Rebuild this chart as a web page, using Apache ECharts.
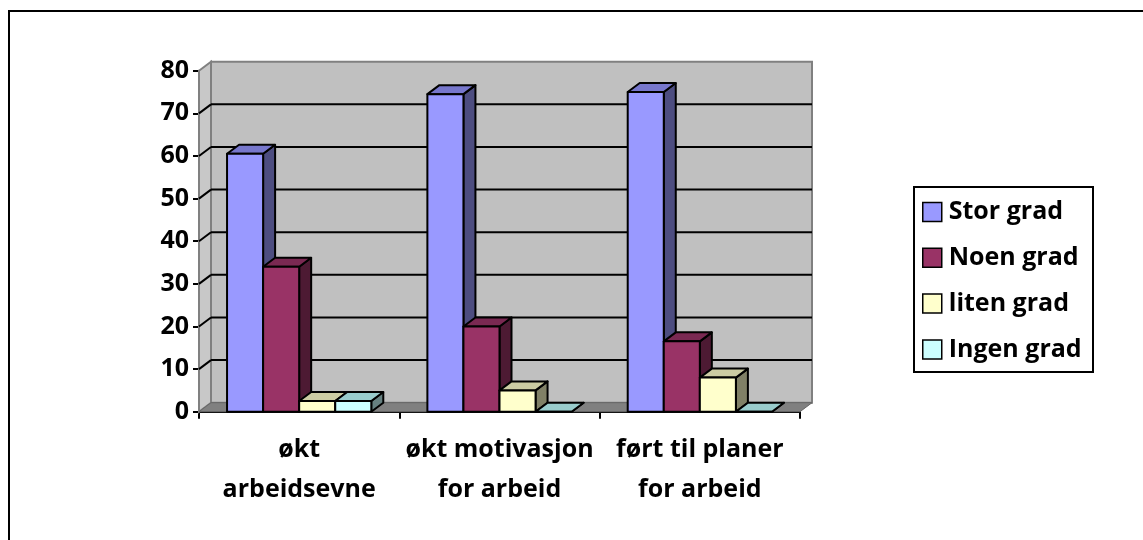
<!DOCTYPE html>
<html>
<head>
<meta charset="utf-8">
<script src="https://cdn.jsdelivr.net/npm/echarts@6/dist/echarts.min.js"></script>
<style>
html,body{margin:0;padding:0;background:#fff;}
#c{width:1143px;height:540px;}
</style>
</head>
<body>
<div id="c"></div>
<script>
// ---- data ----
var categories = ['økt\narbeidsevne', 'økt motivasjon\nfor arbeid', 'ført til planer\nfor arbeid'];
var seriesNames = ['Stor grad', 'Noen grad', 'liten grad', 'Ingen grad'];
var storGrad = [60.5, 74.5, 75];
var noenGrad = [34, 20, 16.5];
var litenGrad = [2.5, 5, 8];
var ingenGrad = [2.5, 0, 0];
var yTicks = [0, 10, 20, 30, 40, 50, 60, 70, 80];

// ---- style ----
var faceColors = [
  {front: '#9999FF', top: '#7777CC', side: '#4D4D80'},
  {front: '#993366', top: '#7A2952', side: '#4D1A33'},
  {front: '#FFFFCC', top: '#CCCCA3', side: '#808066'},
  {front: '#CCFFFF', top: '#99CCCC', side: '#668080'}
];
var DX = 12, DY = -9;
var FONT = '"Open Sans", "Liberation Sans", sans-serif';
var FS = 25;
var allValues = [storGrad, noenGrad, litenGrad, ingenGrad];

var chart = echarts.init(document.getElementById('c'), null, {renderer: 'canvas'});

function wallsRender(params, api) {
  var cs = params.coordSys;
  var x0 = cs.x, x1 = cs.x + cs.width, yT = cs.y, yB = cs.y + cs.height;
  return {
    type: 'group',
    children: [
      {type: 'polygon', shape: {points: [[x0, yT], [x0 + DX, yT + DY], [x0 + DX, yB + DY], [x0, yB]]},
       style: {fill: '#C8C8C8', stroke: '#808080', lineWidth: 2}},
      {type: 'rect', shape: {x: x0 + DX, y: yT + DY, width: cs.width, height: cs.height},
       style: {fill: '#C0C0C0', stroke: '#808080', lineWidth: 2}},
      {type: 'polygon', shape: {points: [[x0, yB], [x1, yB], [x1 + DX, yB + DY], [x0 + DX, yB + DY]]},
       style: {fill: '#808080', stroke: '#666666', lineWidth: 1}}
    ]
  };
}

function gridRender(params, api) {
  var cs = params.coordSys;
  var v = api.value(1);
  if (v <= yTicks[0] || v >= yTicks[yTicks.length - 1]) return null;
  var y = api.coord([0, v])[1];
  var x0 = cs.x, x1 = cs.x + cs.width;
  return {
    type: 'group',
    children: [
      {type: 'line', shape: {x1: x0 + DX, y1: y + DY, x2: x1 + DX, y2: y + DY},
       style: {stroke: '#000', lineWidth: 2}},
      {type: 'line', shape: {x1: x0, y1: y, x2: x0 + DX, y2: y + DY},
       style: {stroke: '#000', lineWidth: 2}}
    ]
  };
}

function makeBarRender(si) {
  return function (params, api) {
    var cat = api.value(0), val = api.value(1);
    var top = api.coord([cat, val]);
    var base = api.coord([cat, 0]);
    var band = api.size([1, 0])[0];
    var bw = band * 0.18;
    var x0 = top[0] + (si - 1.5) * bw - bw / 2;
    var yt = top[1], yb = base[1];
    var c = faceColors[si];
    var st = {stroke: '#000', lineWidth: 2, lineJoin: 'round'};
    return {
      type: 'group',
      children: [
        {type: 'polygon', shape: {points: [[x0 + bw, yt], [x0 + bw + DX, yt + DY], [x0 + bw + DX, yb + DY], [x0 + bw, yb]]},
         style: Object.assign({fill: c.side}, st)},
        {type: 'polygon', shape: {points: [[x0, yt], [x0 + bw, yt], [x0 + bw + DX, yt + DY], [x0 + DX, yt + DY]]},
         style: Object.assign({fill: c.top}, st)},
        {type: 'rect', shape: {x: x0, y: yt, width: bw, height: yb - yt},
         style: Object.assign({fill: c.front}, st)}
      ]
    };
  };
}

var series = [
  {type: 'custom', name: '_walls', renderItem: wallsRender, data: [[0, 0]], silent: true, z: 1},
  {type: 'custom', name: '_grid', renderItem: gridRender, data: yTicks.map(function (t) { return [0, t]; }), silent: true, z: 1}
];
seriesNames.forEach(function (n, si) {
  series.push({
    type: 'custom', name: n, renderItem: makeBarRender(si), z: 2,
    itemStyle: {color: faceColors[si].front},
    data: categories.map(function (c, i) { return [i, allValues[si][i]]; })
  });
});

var option = {
  animation: false,
  backgroundColor: '#fff',
  grid: {left: 199, right: 343, top: 70.7, bottom: 128.3, containLabel: false},
  xAxis: {
    type: 'category', data: categories,
    axisLine: {show: true, lineStyle: {color: '#000', width: 2}},
    axisTick: {show: true, length: 7, lineStyle: {color: '#000', width: 2}},
    axisLabel: {interval: 0, margin: 18, color: '#000', fontFamily: FONT, fontWeight: 'bold', fontSize: FS, lineHeight: 40, align: 'center'},
    splitLine: {show: false}
  },
  yAxis: {
    type: 'value', min: 0, max: 80, interval: 10,
    axisLine: {show: true, lineStyle: {color: '#000', width: 2}},
    axisTick: {show: true, length: 6, lineStyle: {color: '#000', width: 2}},
    axisLabel: {margin: 10, color: '#000', fontFamily: FONT, fontWeight: 'bold', fontSize: FS},
    splitLine: {show: false}
  },
  legend: {
    data: seriesNames,
    orient: 'vertical',
    left: 922, top: 199,
    padding: 0,
    icon: 'rect',
    itemWidth: 19, itemHeight: 19,
    itemGap: 19.8,
    itemStyle: {borderColor: '#000', borderWidth: 1.5},
    textStyle: {color: '#000', fontFamily: FONT, fontWeight: 'bold', fontSize: FS, lineHeight: 26, padding: [0, 0, 0, 2]}
  },
  graphic: [
    {type: 'rect', shape: {x: 914, y: 187, width: 179, height: 185}, style: {fill: 'none', stroke: '#000', lineWidth: 2}, z: 100},
    {type: 'line', shape: {x1: 8, y1: 11, x2: 1143, y2: 11}, style: {stroke: '#000', lineWidth: 2}, z: 100},
    {type: 'line', shape: {x1: 9, y1: 10, x2: 9, y2: 540}, style: {stroke: '#000', lineWidth: 2}, z: 100}
  ],
  series: series
};
chart.setOption(option);
</script>
</body>
</html>
